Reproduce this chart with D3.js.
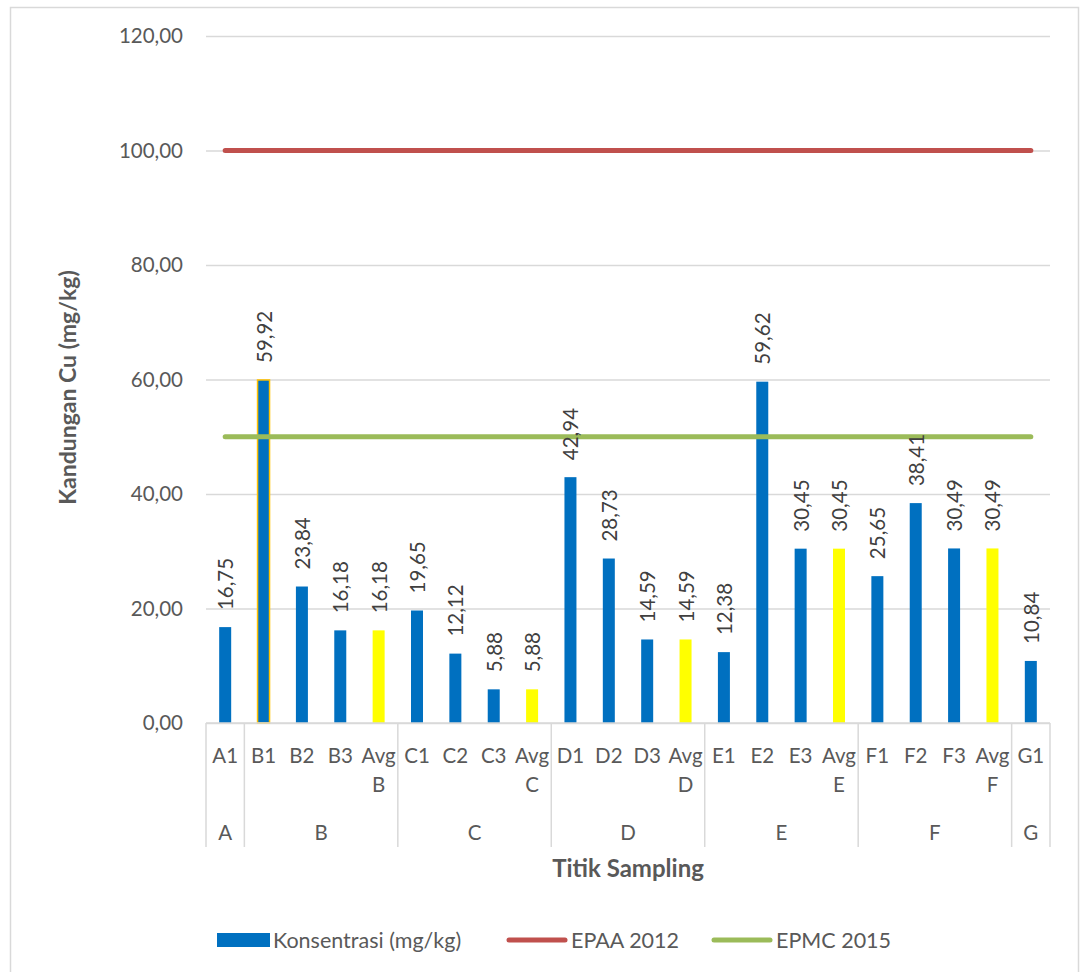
<!DOCTYPE html>
<html>
<head>
<meta charset="utf-8">
<script src="https://cdn.jsdelivr.net/npm/d3@7/dist/d3.min.js"></script>
<style>
  html, body { margin: 0; padding: 0; background: #fff; }
  svg { display: block; font-family: Lato, "Open Sans", sans-serif; }
</style>
</head>
<body>
<svg id="chart" width="1080" height="972"></svg>
<script>
// Sampling points (first axis level) and their site groups (second level)
const categories = ["A1", "B1", "B2", "B3", "Avg B", "C1", "C2", "C3", "Avg C",
  "D1", "D2", "D3", "Avg D", "E1", "E2", "E3", "Avg E", "F1", "F2", "F3", "Avg F", "G1"];
const groups = ["A", "B", "B", "B", "B", "C", "C", "C", "C",
  "D", "D", "D", "D", "E", "E", "E", "E", "F", "F", "F", "F", "G"];
// Cu concentration, mg/kg
const konsentrasi = [16.75, 59.92, 23.84, 16.18, 16.18, 19.65, 12.12, 5.88, 5.88,
  42.94, 28.73, 14.59, 14.59, 12.38, 59.62, 30.45, 30.45, 25.65, 38.41, 30.49, 30.49, 10.84];
// Reference limits
const epaa2012 = 100;
const epmc2015 = 50;
const yTicks = [0, 20, 40, 60, 80, 100, 120];
const outlined = ["B1"];

const svg = d3.select("#chart");
const m = { left: 206, right: 1050, top: 36, bottom: 723 };
const textCol = "#595959";
const gridCol = "#D9D9D9";

const locale = d3.formatLocale({ decimal: ",", thousands: ".", grouping: [3], currency: ["", ""] });
const fmt = locale.format(".2f");

// chart frame
svg.append("rect").attr("x", 10.5).attr("y", 7.5).attr("width", 1068).attr("height", 980)
  .attr("fill", "#fff").attr("stroke", gridCol).attr("stroke-width", 1.5);

const x = d3.scaleBand().domain(categories).range([m.left, m.right]).paddingInner(0).paddingOuter(0);
const y = d3.scaleLinear().domain([0, 120]).range([m.bottom, m.top]);
const barW = 12;

// gridlines + value axis
const yAxis = d3.axisLeft(y).tickValues(yTicks).tickFormat(fmt).tickSize(-(m.right - m.left)).tickPadding(23);
const gy = svg.append("g").attr("transform", `translate(${m.left},0)`).call(yAxis);
gy.select(".domain").remove();
gy.selectAll(".tick line").attr("stroke", gridCol).attr("stroke-width", 1.5);
gy.selectAll(".tick text").attr("fill", textCol).attr("font-size", 20.5).attr("font-family", "Lato, sans-serif");

// bars
svg.append("g").selectAll("rect").data(categories).join("rect")
  .attr("x", d => x(d) + x.bandwidth() / 2 - barW / 2)
  .attr("width", barW)
  .attr("y", (d, i) => y(konsentrasi[i]))
  .attr("height", (d, i) => y(0) - y(konsentrasi[i]))
  .attr("fill", d => d.startsWith("Avg") ? "#FFFF00" : "#0070C0")
  .attr("stroke", d => outlined.includes(d) ? "#FFC000" : "none")
  .attr("stroke-width", 1.5);

// reference lines
const lineGen = d3.line().x(d => x(d) + x.bandwidth() / 2);
function refLine(val, color) {
  svg.append("path")
    .attr("d", lineGen.y(() => y(val))(categories))
    .attr("fill", "none").attr("stroke", color).attr("stroke-width", 5).attr("stroke-linecap", "round");
}
refLine(epaa2012, "#C0504D");
refLine(epmc2015, "#9BBB59");

// data labels
svg.append("g").selectAll("text").data(categories).join("text")
  .attr("transform", (d, i) => `translate(${x(d) + x.bandwidth() / 2},${y(konsentrasi[i]) - 17}) rotate(-90)`)
  .attr("dominant-baseline", "central")
  .attr("text-anchor", "start")
  .attr("fill", "#404040").attr("font-size", 20.5)
  .text((d, i) => fmt(konsentrasi[i]));

// category axis: baseline, group separators, labels
const axisG = svg.append("g");
axisG.append("line").attr("x1", m.left).attr("x2", m.right).attr("y1", m.bottom).attr("y2", m.bottom)
  .attr("stroke", gridCol).attr("stroke-width", 1.5);

const groupNames = Array.from(new Set(groups));
const groupSpans = groupNames.map(g => {
  const idx = categories.filter((c, i) => groups[i] === g);
  return { name: g, x0: x(idx[0]), x1: x(idx[idx.length - 1]) + x.bandwidth() };
});
const seps = [m.left].concat(groupSpans.map(s => s.x1));
axisG.selectAll("line.sep").data(seps).join("line").attr("class", "sep")
  .attr("x1", d => d).attr("x2", d => d).attr("y1", m.bottom).attr("y2", 847)
  .attr("stroke", gridCol).attr("stroke-width", 1.5);

const catLabels = axisG.selectAll("text.cat").data(categories).join("text").attr("class", "cat")
  .attr("text-anchor", "middle").attr("fill", textCol).attr("font-size", 20.5);
catLabels.each(function (d) {
  const parts = d.split(" ");
  const t = d3.select(this);
  parts.forEach((p, k) => {
    t.append("tspan").attr("x", x(d) + x.bandwidth() / 2).attr("y", 763 + k * 29).text(p);
  });
});

axisG.selectAll("text.grp").data(groupSpans).join("text").attr("class", "grp")
  .attr("x", d => (d.x0 + d.x1) / 2).attr("y", 840)
  .attr("text-anchor", "middle").attr("fill", textCol).attr("font-size", 20.5)
  .text(d => d.name);

// axis titles
svg.append("text").attr("x", 628).attr("y", 877).attr("text-anchor", "middle")
  .attr("fill", textCol).attr("font-size", 24).attr("font-weight", "bold").text("Titik Sampling");
svg.append("text").attr("transform", `translate(76,${(m.top + m.bottom) / 2 + 8}) rotate(-90)`)
  .attr("text-anchor", "middle").attr("fill", textCol).attr("font-size", 23).attr("font-weight", "bold")
  .text("Kandungan Cu (mg/kg)");

// legend
const legend = svg.append("g").attr("font-size", 21.5).attr("fill", textCol);
const legendItems = [
  { label: "Konsentrasi (mg/kg)", type: "rect", color: "#0070C0", x: 217 },
  { label: "EPAA 2012", type: "line", color: "#C0504D", x: 509 },
  { label: "EPMC 2015", type: "line", color: "#9BBB59", x: 714 }
];
const ly = 940;
legendItems.forEach(it => {
  if (it.type === "rect") {
    legend.append("rect").attr("x", it.x).attr("y", ly - 7).attr("width", 53).attr("height", 14).attr("fill", it.color);
    legend.append("text").attr("x", it.x + 56).attr("y", ly).attr("dominant-baseline", "central").text(it.label);
  } else {
    legend.append("line").attr("x1", it.x).attr("x2", it.x + 56).attr("y1", ly).attr("y2", ly)
      .attr("stroke", it.color).attr("stroke-width", 5).attr("stroke-linecap", "round");
    legend.append("text").attr("x", it.x + 62).attr("y", ly).attr("dominant-baseline", "central").text(it.label);
  }
});
</script>
</body>
</html>
